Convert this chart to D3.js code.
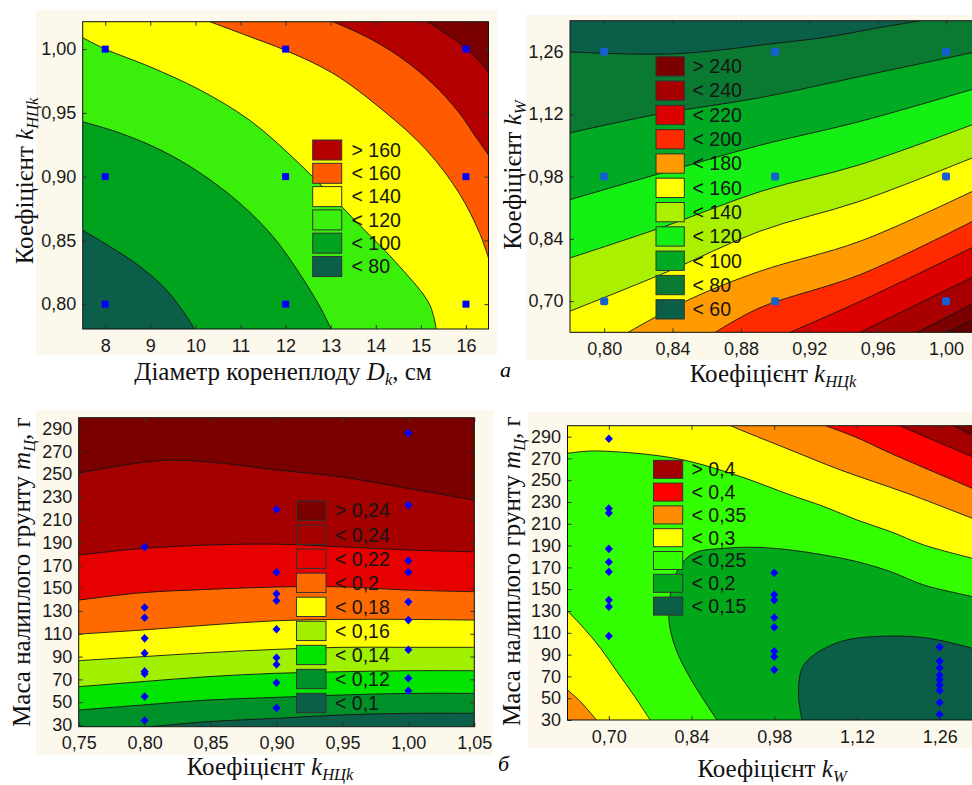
<!DOCTYPE html>
<html>
<head>
<meta charset="utf-8">
<script src="https://cdn.jsdelivr.net/npm/d3@7"></script>
<style>
body{margin:0;background:#fff;}
</style>
</head>
<body>
<div id="wrapper"></div>
<script>
// ---------- data: panel a (top left), Dk vs kНЦk ----------
const aLevels = [80, 100, 120, 140, 160, 180];
const aLines = [
  [[7.5,0.858],[8.11,0.845],[8.77,0.8295],[9.36,0.811],[9.81,0.790],[9.98,0.7805]],
  [[7.5,0.943],[8.26,0.935],[9.22,0.921],[10.10,0.903],[10.99,0.879],[11.72,0.853],[12.31,0.824],[12.76,0.798],[13.01,0.7805]],
  [[7.5,1.009],[8.0,1.000],[9.0,0.986],[10.1,0.968],[11.21,0.944],[12.31,0.910],[13.53,0.866],[14.53,0.8295],[15.19,0.80],[15.34,0.7805]],
  [[10.32,1.0215],[11.21,1.0097],[12.0,0.999],[13.05,0.981],[14.16,0.952],[15.12,0.921],[15.85,0.887],[16.30,0.856],[16.5,0.836]],
  [[13.05,1.0215],[13.79,1.0097],[14.53,0.994],[15.26,0.973],[15.85,0.950],[16.22,0.931],[16.5,0.917]],
  [[15.15,1.0215],[15.56,1.012],[16.0,1.0005],[16.30,0.990],[16.5,0.982]]
];
const aLegend = ['> 160', '< 160', '< 140', '< 120', '< 100', '< 80'];
const aPtsX = [8, 8, 8, 12, 12, 12, 16, 16, 16];
const aPtsY = [0.80, 0.90, 1.00, 0.80, 0.90, 1.00, 0.80, 0.90, 1.00];
const aTicksX = [8, 9, 10, 11, 12, 13, 14, 15, 16];
const aTicksY = [0.80, 0.85, 0.90, 0.95, 1.00];

// ---------- data: panel a (top right), kНЦk vs kW ----------
const bLevels = [60, 80, 100, 120, 140, 160, 180, 200, 220, 240, 260];
const bLines = [
  [[0.78,1.26],[0.811,1.2555],[0.840,1.2555],[0.870,1.265],[0.894,1.2765],[0.930,1.293],[0.9575,1.312],[0.985,1.33]],
  [[0.78,1.078],[0.830,1.119],[0.891,1.157],[0.950,1.205],[1.02,1.262]],
  [[0.78,0.928],[0.851,1.007],[0.891,1.050],[0.950,1.104],[1.02,1.181]],
  [[0.78,0.797],[0.8355,0.868],[0.892,0.947],[0.950,1.007],[1.02,1.103]],
  [[0.78,0.6775],[0.8355,0.7636],[0.891,0.857],[0.950,0.925],[1.02,1.029]],
  [[0.814,0.63],[0.850,0.704],[0.891,0.767],[0.950,0.835],[1.02,0.955]],
  [[0.865,0.63],[0.891,0.685],[0.950,0.760],[1.02,0.888]],
  [[0.9087,0.63],[0.950,0.700],[1.02,0.829]],
  [[0.9497,0.63],[0.983,0.6925],[1.02,0.762]],
  [[0.983,0.63],[1.02,0.702]],
  [[1.0004,0.63],[1.02,0.666]]
];
const bLegend = ['> 240', '< 240', '< 220', '< 200', '< 180', '< 160', '< 140', '< 120', '< 100', '< 80', '< 60'];
const bPtsX = [0.80, 0.80, 0.80, 0.90, 0.90, 0.90, 1.00, 1.00, 1.00];
const bPtsY = [0.70, 0.98, 1.26, 0.70, 0.98, 1.26, 0.70, 0.98, 1.26];
const bTicksX = [0.80, 0.84, 0.88, 0.92, 0.96, 1.00];
const bTicksY = [0.70, 0.84, 0.98, 1.12, 1.26];

// ---------- data: panel б (bottom left), kНЦk vs mЦ ----------
const cLevels = [0.10, 0.12, 0.14, 0.16, 0.18, 0.20, 0.22, 0.24];
const cLines = [
  [[0.804,28.5],[0.848,32.9],[0.899,35.8],[0.949,38.8],[1.0,40.2],[1.05,40.2]],
  [[0.75,43.1],[0.798,47.5],[0.848,51.9],[0.899,54.2],[0.949,56.3],[1.0,57.7],[1.05,57.7]],
  [[0.75,63.6],[0.798,68.0],[0.848,72.4],[0.899,75.3],[0.949,76.7],[1.0,77.6],[1.05,77.6]],
  [[0.75,86.4],[0.798,89.9],[0.848,93.4],[0.899,96.3],[0.949,98.1],[1.0,98.1],[1.05,98.1]],
  [[0.75,109.7],[0.798,113.3],[0.848,117.6],[0.899,121.4],[0.949,122.6],[1.0,122.6],[1.05,122.0]],
  [[0.75,139.5],[0.798,146.0],[0.848,148.9],[0.899,151.0],[0.949,151.2],[1.0,148.3],[1.05,146.9]],
  [[0.75,179.0],[0.798,184.8],[0.848,187.8],[0.899,188.6],[0.949,186.3],[1.0,183.4],[1.05,181.9]],
  [[0.75,251.0],[0.8105,261.7],[0.848,260.8],[0.899,253.8],[0.949,247.6],[1.0,237.4],[1.05,227.2]]
];
const cLegend = ['> 0,24', '< 0,24', '< 0,22', '< 0,2', '< 0,18', '< 0,16', '< 0,14', '< 0,12', '< 0,1'];
const cPtsX = [0.80,0.80,0.80,0.80,0.80,0.80,0.80,0.80,0.80, 0.90,0.90,0.90,0.90,0.90,0.90,0.90,0.90,0.90, 1.00,1.00,1.00,1.00,1.00,1.00,1.00,1.00,1.00];
const cPtsY = [186,133,124,106,93,77,75,55,34, 219,164,145,139,114,89,83,67,45, 286,223,174,164,138,122,96,71,60];
const cTicksX = [0.75, 0.80, 0.85, 0.90, 0.95, 1.00, 1.05];
const cTicksY = [30, 50, 70, 90, 110, 130, 150, 170, 190, 210, 230, 250, 270, 290];

// ---------- data: panel б (bottom right), kW vs mЦ ----------
const dLevels = [0.15, 0.20, 0.25, 0.25, 0.30, 0.30, 0.35, 0.40, 0.45];
const dLines = [
  [[1.027,30],[1.021,52.9],[1.027,77.4],[1.047,89.6],[1.092,101.9],[1.148,106.5],[1.233,105.6],[1.315,95.8],[1.33,93]],
  [[0.883,30],[0.838,68.2],[0.813,95.8],[0.802,120.2],[0.804,144.7],[0.818,169.2],[0.844,183.1],[0.895,187.5],[0.951,188.4],[1.007,186],[1.064,181.4],[1.12,175.3],[1.177,166.1],[1.233,153.9],[1.315,143.2],[1.33,141]],
  [[0.63,274.7],[0.669,276.8],[0.725,275.6],[0.782,272.6],[0.838,267.1],[0.923,253.3],[1.007,236.5],[1.064,225.8],[1.12,213.5],[1.177,202.8],[1.233,190.6],[1.315,178.3],[1.33,176]],
  [[0.63,130],[0.658,114.1],[0.686,95.8],[0.714,74.3],[0.742,52.9],[0.77,30]],
  [[0.906,300],[0.923,296.1],[1.007,277.8],[1.092,259.4],[1.205,238],[1.315,215.1],[1.33,212]],
  [[0.63,57.5],[0.652,46.8],[0.679,30]],
  [[1.067,300],[1.12,289],[1.177,274.7],[1.315,242.6],[1.33,239]],
  [[1.193,300],[1.255,285.4],[1.315,271.6],[1.33,268]],
  [[1.284,300],[1.315,291.4],[1.33,287]]
];
const dLegend = ['> 0,4', '< 0,4', '< 0,35', '< 0,3', '< 0,25', '< 0,2', '< 0,15'];
const dPtsX = [0.70,0.70,0.70,0.70,0.70,0.70,0.70,0.70,0.70, 0.98,0.98,0.98,0.98,0.98,0.98,0.98,0.98, 1.26,1.26,1.26,1.26,1.26,1.26,1.26,1.26,1.26];
const dPtsY = [288,224,220,187,175,166,140,134,107, 165,145,140,124,115,93,88,76, 97,84,78,71,67,62,57,46,35];
const dTicksX = [0.70, 0.84, 0.98, 1.12, 1.26];
const dTicksY = [30, 50, 70, 90, 110, 130, 150, 170, 190, 210, 230, 250, 270, 290];

// ---------- styles ----------
const teal = '#0b5e47';
const aColors = ['#b40000', '#ff5a00', '#ffff00', '#3af00a', '#00a21e', teal];
const bColors = ['#7d0000', '#a80000', '#dd0000', '#ff2a00', '#ff9a00', '#ffff00', '#aaf000', '#14f014', '#00aa22', '#0a7a32', teal];
const cColors = ['#7a0000', '#a50000', '#e60000', '#ff6a00', '#ffff00', '#a0f000', '#00e400', '#00902a', teal];
const dColors = ['#a50000', '#ff0000', '#ff8c00', '#ffff00', '#33ff00', '#00a81a', teal];

const comma = f => v => f(v).replace('.', ',');
const titleA = [{t:'Діаметр коренеплоду '}, {t:'D', i:1}, {t:'k', i:1, sub:1}, {t:', см'}];
const titleK = [{t:'Коефіцієнт '}, {t:'k', i:1}, {t:'НЦk', i:1, sub:1}];
const titleW = [{t:'Коефіцієнт '}, {t:'k', i:1}, {t:'W', i:1, sub:1}];
const titleM = [{t:'Маса налиплого грунту '}, {t:'m', i:1}, {t:'Ц', i:1, sub:1}, {t:', г'}];

const panels = [
  {xDomain:[7.5,16.5], yDomain:[0.7805,1.0215], box:[82.7,488.5,21.7,329], bg:[36,10,461,345],
   xTicks:aTicksX, yTicks:aTicksY, xFmt:d3.format('d'), yFmt:comma(d3.format('.2f')),
   lines:aLines, base:teal,
   fills:['#00a21e','#3af00a','#ffff00','#ff5a00','#b40000','#7a0000'],
   close:[['br','tr','tl'],['br','tr','tl'],['br','tr','tl'],['tr'],['tr'],['tr']],
   legend:{labels:aLegend, colors:aColors, x:312.7, y:140, w:29, h:20, step:23.3, tx:351.5},
   ptsX:aPtsX, ptsY:aPtsY, shape:'square', ptColor:'#0000ff', ptSize:7,
   xTitle:{parts:titleA, x:283, y:380}, yTitle:{parts:titleK, x:33, y:181}},
  {xDomain:[0.78,1.02], yDomain:[0.63,1.33], box:[570,980.2,20.7,332.3], bg:[526,15,460,345],
   xTicks:bTicksX, yTicks:bTicksY, xFmt:comma(d3.format('.2f')), yFmt:comma(d3.format('.2f')),
   lines:bLines, base:teal,
   fills:['#0a7a32','#00aa22','#14f014','#aaf000','#ffff00','#ff9a00','#ff2a00','#dd0000','#a80000','#7d0000','#650000'],
   close:[['tr','br','bl'],['br','bl'],['br','bl'],['br','bl'],['br','bl'],['br'],['br'],['br'],['br'],['br'],['br']],
   legend:{labels:bLegend, colors:bColors, x:656, y:56.7, w:28.3, h:19.3, step:24.3, tx:692.5},
   ptsX:bPtsX, ptsY:bPtsY, shape:'round', ptColor:'#1560d0', ptSize:8,
   xTitle:{parts:titleK, x:773, y:382}, yTitle:{parts:titleW, x:521, y:175}},
  {xDomain:[0.75,1.05], yDomain:[28.5,299.5], box:[78.7,474.3,417.7,726.7], bg:[36,410,457,345],
   xTicks:cTicksX, yTicks:cTicksY, xFmt:comma(d3.format('.2f')), yFmt:d3.format('d'),
   lines:cLines, base:teal,
   fills:['#00902a','#00e400','#a0f000','#ffff00','#ff6a00','#e60000','#a50000','#7a0000'],
   close:[['tr','tl','bl'],['tr','tl'],['tr','tl'],['tr','tl'],['tr','tl'],['tr','tl'],['tr','tl'],['tr','tl']],
   legend:{labels:cLegend, colors:cColors, x:296.5, y:501, w:29.5, h:19.3, step:24.05, tx:335},
   ptsX:cPtsX, ptsY:cPtsY, shape:'diamond', ptColor:'#0000ff', ptSize:8,
   xTitle:{parts:titleK, x:270, y:775}, yTitle:{parts:titleM, x:30, y:572}},
  {xDomain:[0.63,1.33], yDomain:[30,300], box:[567.5,981,425.7,720], bg:[528,412,460,336],
   xTicks:dTicksX, yTicks:dTicksY, xFmt:comma(d3.format('.2f')), yFmt:d3.format('d'),
   lines:dLines, base:'#33ff00',
   fills:['#0b5e47','#00a81a','#ffff00','#ffff00','#ff8c00','#ff8c00','#ff0000','#a50000','#7a0000'],
   close:[['br'],['br'],['tr','tl'],['bl'],['tr'],['bl'],['tr'],['tr'],['tr']],
   order:[1,0,2,3,4,5,6,7,8],
   legend:{labels:dLegend, colors:dColors, x:653.5, y:460.3, w:29.2, h:18, step:22.8, tx:691.5},
   ptsX:dPtsX, ptsY:dPtsY, shape:'diamond', ptColor:'#0000ff', ptSize:8,
   xTitle:{parts:titleW, x:772, y:777}, yTitle:{parts:titleM, x:520, y:571}}
];

// ---------- canvas ----------
const dimensions = {width:972, height:785};
const svg = d3.select('#wrapper').append('svg')
  .attr('width', dimensions.width).attr('height', dimensions.height)
  .style('display', 'block');
const defs = svg.append('defs');

function addTitle(parent, parts, x, y, rotate) {
  const text = parent.append('text')
    .attr('transform', `translate(${x},${y})` + (rotate ? ' rotate(-90)' : ''))
    .attr('text-anchor', 'middle')
    .attr('font-family', '"Liberation Serif", "Times New Roman", serif')
    .attr('font-size', 25).attr('fill', '#111');
  let shifted = false;
  parts.forEach(p => {
    const ts = text.append('tspan').text(p.t);
    if (p.i) ts.attr('font-style', 'italic');
    if (p.sub) { ts.attr('font-size', 16.5).attr('dy', 5); shifted = true; }
    else if (shifted) { ts.attr('dy', -5); shifted = false; }
  });
}

function drawPanel(p, k) {
  const [x0, x1, y0, y1] = p.box;
  const xScale = d3.scaleLinear().domain(p.xDomain).range([x0, x1]);
  const yScale = d3.scaleLinear().domain(p.yDomain).range([y1, y0]);

  // beige backdrop
  svg.append('rect')
    .attr('x', p.bg[0]).attr('y', p.bg[1]).attr('width', p.bg[2]).attr('height', p.bg[3])
    .attr('fill', '#fcf8ec');

  defs.append('clipPath').attr('id', 'clip' + k)
    .append('rect').attr('x', x0).attr('y', y0).attr('width', x1 - x0).attr('height', y1 - y0);
  const bounds = svg.append('g').attr('clip-path', `url(#clip${k})`);

  bounds.append('rect')
    .attr('x', x0).attr('y', y0).attr('width', x1 - x0).attr('height', y1 - y0)
    .attr('fill', p.base);

  // contour bands, painted from the outside in
  const curve = d3.line().x(d => xScale(d[0])).y(d => yScale(d[1])).curve(d3.curveCatmullRom.alpha(0.5));
  const corner = {
    tl:[p.xDomain[0], p.yDomain[1]], tr:[p.xDomain[1], p.yDomain[1]],
    bl:[p.xDomain[0], p.yDomain[0]], br:[p.xDomain[1], p.yDomain[0]]
  };
  const order = p.order || p.lines.map((d, i) => i);
  order.forEach(i => {
    let path = curve(p.lines[i]);
    p.close[i].forEach(c => { path += `L${xScale(corner[c][0])},${yScale(corner[c][1])}`; });
    bounds.append('path').attr('d', path + 'Z').attr('fill', p.fills[i]);
  });
  bounds.selectAll('path.iso').data(p.lines).enter().append('path')
    .attr('class', 'iso')
    .attr('d', curve).attr('fill', 'none')
    .attr('stroke', '#141414').attr('stroke-width', 0.9);

  // measured points
  const pts = p.ptsX.map((d, i) => [d, p.ptsY[i]]);
  const s = p.ptSize / 2;
  const marks = bounds.selectAll('.pt').data(pts).enter();
  if (p.shape === 'diamond') {
    marks.append('path')
      .attr('d', d => `M${xScale(d[0])},${yScale(d[1]) - s - 0.3}l${s},${s + 0.3}l${-s},${s + 0.3}l${-s},${-(s + 0.3)}Z`)
      .attr('fill', p.ptColor);
  } else {
    marks.append('rect')
      .attr('x', d => xScale(d[0]) - s).attr('y', d => yScale(d[1]) - s)
      .attr('width', p.ptSize).attr('height', p.ptSize)
      .attr('rx', p.shape === 'round' ? 2 : 0)
      .attr('fill', p.ptColor);
  }

  // axes
  const tickFont = '"Liberation Sans", Arial, sans-serif';
  const xAxis = svg.append('g').attr('transform', `translate(0,${y1})`)
    .call(d3.axisBottom(xScale).tickValues(p.xTicks).tickFormat(p.xFmt).tickSize(-4).tickPadding(10));
  const yAxis = svg.append('g').attr('transform', `translate(${x0},0)`)
    .call(d3.axisLeft(yScale).tickValues(p.yTicks).tickFormat(p.yFmt).tickSize(-4).tickPadding(6.5));
  const topAxis = svg.append('g').attr('transform', `translate(0,${y0})`)
    .call(d3.axisTop(xScale).tickValues(p.xTicks).tickFormat('').tickSize(-4));
  const rightAxis = svg.append('g').attr('transform', `translate(${x1},0)`)
    .call(d3.axisRight(yScale).tickValues(p.yTicks).tickFormat('').tickSize(-4));
  [xAxis, yAxis, topAxis, rightAxis].forEach(a => {
    a.select('.domain').remove();
    a.selectAll('line').attr('stroke', '#333');
    a.selectAll('text').attr('font-family', tickFont).attr('font-size', 18).attr('fill', '#1a1a1a');
  });
  svg.append('rect')
    .attr('x', x0).attr('y', y0).attr('width', x1 - x0).attr('height', y1 - y0)
    .attr('fill', 'none').attr('stroke', '#111').attr('stroke-width', 1);

  // legend
  const lg = p.legend;
  const items = svg.append('g').selectAll('g').data(lg.labels).enter().append('g');
  items.append('rect')
    .attr('x', lg.x).attr('y', (d, i) => lg.y + i * lg.step)
    .attr('width', lg.w).attr('height', lg.h)
    .attr('fill', (d, i) => lg.colors[i]).attr('stroke', '#333').attr('stroke-width', 1);
  items.append('text')
    .attr('x', lg.tx).attr('y', (d, i) => lg.y + i * lg.step + lg.h / 2 + 6.8)
    .attr('font-family', tickFont).attr('font-size', 19.5).attr('fill', '#151515')
    .text(d => d);

  addTitle(svg, p.xTitle.parts, p.xTitle.x, p.xTitle.y, false);
  addTitle(svg, p.yTitle.parts, p.yTitle.x, p.yTitle.y, true);
}

panels.forEach(drawPanel);

// panel letters
svg.append('text').attr('x', 500).attr('y', 377).text('а')
  .attr('font-family', '"Liberation Serif", serif').attr('font-style', 'italic').attr('font-size', 22);
svg.append('text').attr('x', 498).attr('y', 771).text('б')
  .attr('font-family', '"Liberation Serif", serif').attr('font-style', 'italic').attr('font-size', 22);
</script>
</body>
</html>
